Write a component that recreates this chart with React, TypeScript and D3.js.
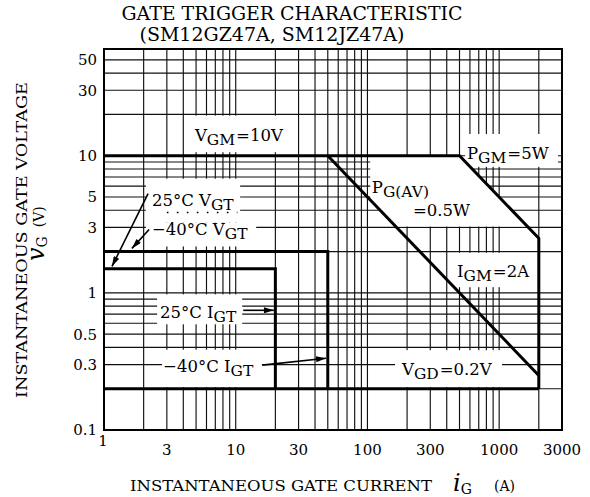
import React, { useRef, useEffect } from "react";
import * as d3 from "d3";

// gate current (mA, axis says A) vs gate voltage (V)
const xTicks = [1, 3, 10, 30, 100, 300, 1000, 3000];
const yTicks = [0.1, 0.3, 0.5, 1, 3, 5, 10, 30, 50];

// limit curves [iG, vG]
const peakLimit = [[1, 10], [500, 10], [2000, 2.5], [2000, 0.2]]; // VGM, PGM, IGM
const avgPower = [[50, 10], [2000, 0.25]]; // PG(AV)=0.5W
const vgdLine = [[1, 0.2], [2000, 0.2]]; // VGD
const trig25 = [[1, 1.5], [20, 1.5], [20, 0.2]]; // 25°C VGT / IGT
const trig40 = [[1, 2], [50, 2], [50, 0.2]]; // -40°C VGT / IGT

// annotation texts: [text, subscript?]
const labels = [
  { at: [4.9, 12.85], parts: [["V"], ["GM", 1], ["=10V"]] },
  { at: [570, 9.5], parts: [["P"], ["GM", 1], ["=5W"]] },
  { at: [108, 5.38], parts: [["P"], ["G(AV)", 1]] },
  { at: [222, 3.66], parts: [["=0.5W"]] },
  { at: [479, 1.3], parts: [["I"], ["GM", 1], ["=2A"]] },
  { at: [183, 0.251], parts: [["V"], ["GD", 1], ["=0.2V"]] },
  { at: [2.31, 4.33], parts: [["25°C V"], ["GT", 1]] },
  { at: [2.31, 2.62], parts: [["−40°C V"], ["GT", 1]] },
  { at: [2.66, 0.652], parts: [["25°C I"], ["GT", 1]] },
  { at: [2.81, 0.264], parts: [["−40°C I"], ["GT", 1]] },
];

// leader arrows [from, to]
const arrows = [
  [[2.16, 5.29], [1.15, 1.56]],
  [[2.2, 2.9], [1.63, 2.11]],
  [[11.4, 0.746], [19.5, 0.746]],
  [[15.9, 0.297], [48.5, 0.334]],
];

export default function App() {
  const ref = useRef<SVGSVGElement>(null);

  useEffect(() => {
    const svg = d3.select(ref.current);
    svg.selectAll("*").remove();

    const x = d3.scaleLog().domain([1, 3000]).range([104, 562]);
    const y = d3.scaleLog().domain([0.1, 60]).range([430, 49]);
    const [x0, x1] = x.range();
    const [y0, y1] = y.range();

    const defs = svg.append("defs");
    defs.append("marker")
      .attr("id", "ah")
      .attr("viewBox", "0 0 10 6")
      .attr("refX", 10).attr("refY", 3)
      .attr("markerWidth", 12).attr("markerHeight", 6)
      .attr("markerUnits", "userSpaceOnUse")
      .attr("orient", "auto")
      .append("path").attr("d", "M0,0L10,3L0,6Z").attr("fill", "#000");

    // grid
    const grid = svg.append("g").attr("stroke", "#111").attr("stroke-width", 1.15);
    x.ticks().forEach(v => {
      grid.append("line").attr("x1", x(v)).attr("x2", x(v)).attr("y1", y0).attr("y2", y1);
    });
    y.ticks().forEach(v => {
      grid.append("line").attr("x1", x0).attr("x2", x1).attr("y1", y(v)).attr("y2", y(v));
    });

    // white boxes behind the labels
    const boxes = [
      [4.2, 26.8, 10.6, 19.6],
      [2.08, 10.8, 3.26, 6.8],
      [2.08, 14.3, 2.18, 3.26],
      [2.53, 11.2, 0.59, 0.975],
      [2.76, 15.8, 0.205, 0.385],
      [551, 2800, 8.3, 14.4],
      [462, 1940, 1.1, 1.96],
      [162, 1052, 0.205, 0.382],
    ];
    const mask = svg.append("g").attr("fill", "#fff");
    boxes.forEach(([a, b, c, d]) => {
      mask.append("rect")
        .attr("x", x(a)).attr("width", x(b) - x(a))
        .attr("y", y(d)).attr("height", y(c) - y(d));
    });
    const pav = [[105, 9.9], [505, 9.9], [1639, 3.05], [164, 3.05], [105, 4.76]];
    mask.append("polygon").attr("points", pav.map(([a, b]) => `${x(a)},${y(b)}`).join(" "));

    // frame
    svg.append("rect")
      .attr("x", x0).attr("y", y1).attr("width", x1 - x0).attr("height", y0 - y1)
      .attr("fill", "none").attr("stroke", "#000").attr("stroke-width", 2);

    // limit curves
    const line = d3.line<number[]>().x(d => x(d[0])).y(d => y(d[1]));
    [peakLimit, avgPower, vgdLine, trig25, trig40].forEach(d => {
      svg.append("path").attr("d", line(d)).attr("fill", "none")
        .attr("stroke", "#000").attr("stroke-width", 3);
    });

    // dotted separator between VGT labels
    svg.append("line")
      .attr("x1", x(3)).attr("x2", x(10.3)).attr("y1", y(3.85)).attr("y2", y(3.85))
      .attr("stroke", "#000").attr("stroke-width", 1.6).attr("stroke-dasharray", "1.6 8.4");

    arrows.forEach(([a, b]) => {
      svg.append("line")
        .attr("x1", x(a[0])).attr("y1", y(a[1])).attr("x2", x(b[0])).attr("y2", y(b[1]))
        .attr("stroke", "#000").attr("stroke-width", 1.6).attr("marker-end", "url(#ah)");
    });

    // annotations
    labels.forEach(l => {
      const t = svg.append("text").attr("x", x(l.at[0])).attr("y", y(l.at[1]))
        .attr("font-size", 16.5);
      let low = false;
      l.parts.forEach(([s, sub]) => {
        const sp = t.append("tspan").text(s as string);
        if (sub && !low) { sp.attr("dy", 4).attr("font-size", 15.5); low = true; }
        else if (!sub && low) { sp.attr("dy", -4).attr("dx", 1); low = false; }
      });
    });

    // tick labels
    svg.append("g").attr("font-size", 15).attr("text-anchor", "middle")
      .selectAll("text").data(xTicks).join("text")
      .attr("x", (d, i) => x(d) - (i === 0 ? 1 : 0))
      .attr("y", (d, i) => (i === 0 ? 446 : 455))
      .text(d => d);
    svg.append("g").attr("font-size", 15).attr("text-anchor", "end")
      .selectAll("text").data(yTicks).join("text")
      .attr("x", x0 - 7).attr("y", d => y(d)).attr("dy", "0.36em")
      .text(d => d);

    // titles
    svg.append("text").attr("x", 292).attr("y", 20).attr("text-anchor", "middle")
      .attr("font-size", 18).attr("textLength", 341).attr("lengthAdjust", "spacingAndGlyphs")
      .text("GATE TRIGGER CHARACTERISTIC");
    svg.append("text").attr("x", 272).attr("y", 41).attr("text-anchor", "middle")
      .attr("font-size", 18).attr("textLength", 265).attr("lengthAdjust", "spacingAndGlyphs")
      .text("(SM12GZ47A, SM12JZ47A)");

    const xt = svg.append("text").attr("x", 130).attr("y", 491).attr("font-size", 14);
    xt.append("tspan").attr("textLength", 302).attr("lengthAdjust", "spacingAndGlyphs")
      .text("INSTANTANEOUS GATE CURRENT");
    xt.append("tspan").attr("x", 453).attr("font-size", 24).attr("font-style", "italic").text("i");
    xt.append("tspan").attr("font-size", 14).attr("dy", 3).text("G");
    xt.append("tspan").attr("x", 494).attr("dy", -3).attr("font-size", 14).text("(A)");

    svg.append("text").attr("transform", "translate(27,240) rotate(-90)")
      .attr("text-anchor", "middle").attr("font-size", 14)
      .attr("textLength", 316).attr("lengthAdjust", "spacingAndGlyphs")
      .text("INSTANTANEOUS GATE VOLTAGE");
    const yt = svg.append("text").attr("transform", "translate(44,261) rotate(-90)");
    yt.append("tspan").attr("font-size", 24).attr("font-style", "italic").text("v");
    yt.append("tspan").attr("font-size", 14).attr("dy", 3).text("G");
    yt.append("tspan").attr("font-size", 14).attr("dy", -3).attr("dx", 9).text("(V)");
  }, []);

  return (
    <svg ref={ref} width={590} height={497}
      style={{ position: "absolute", left: 0, top: 0, background: "#fff", fontFamily: "'DejaVu Serif', serif" }} />
  );
}
